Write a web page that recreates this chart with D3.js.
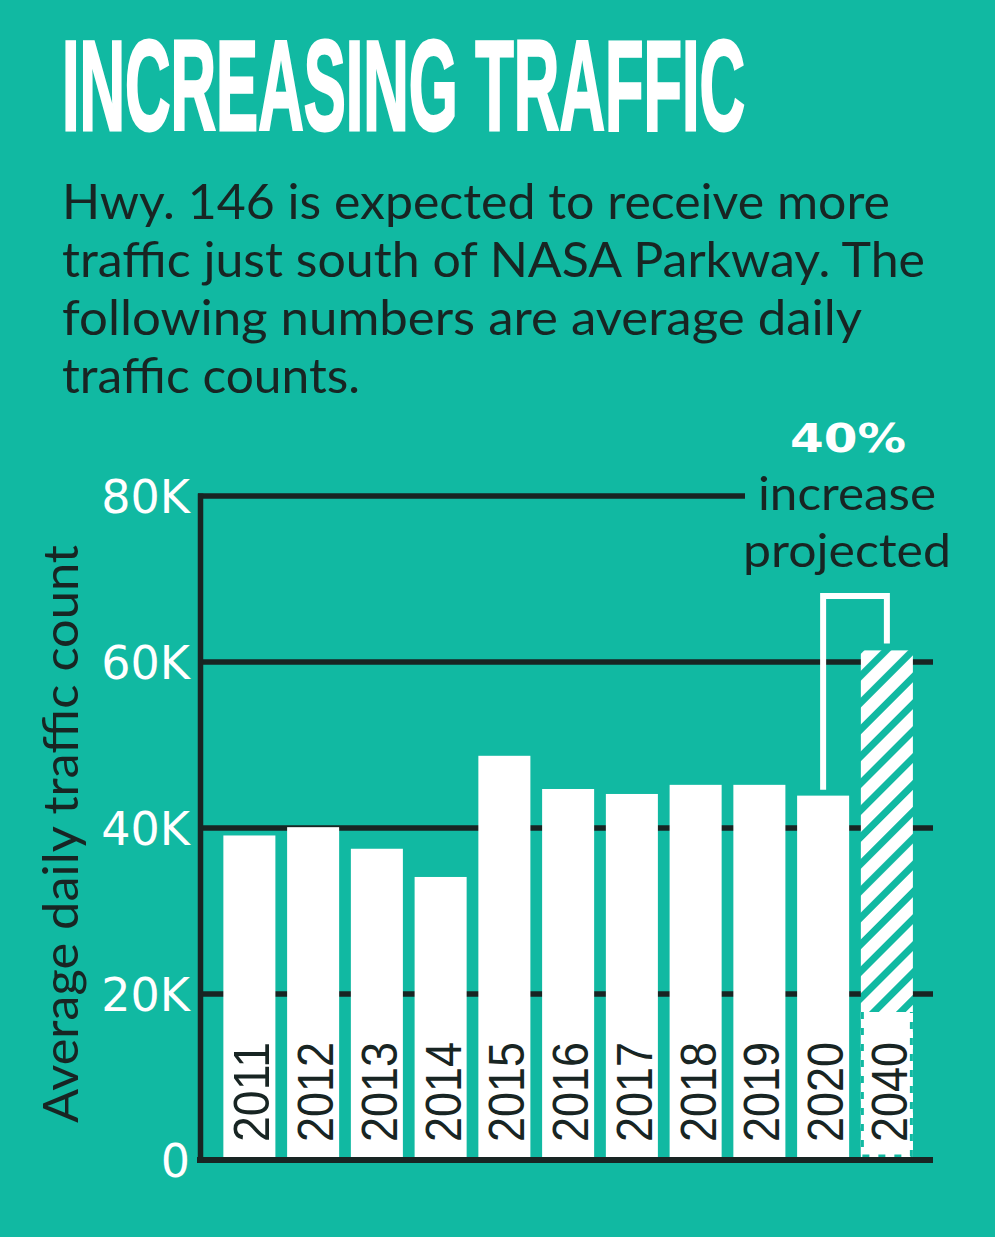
<!DOCTYPE html>
<html>
<head>
<meta charset="utf-8">
<script src="https://cdn.jsdelivr.net/npm/d3@7"></script>
<style>
  html, body { margin: 0; padding: 0; background: #11b9a2; }
  svg { display: block; }
</style>
</head>
<body>
<svg id="chart" width="995" height="1237"></svg>
<script>
/// DATA ///
var years = ["2011", "2012", "2013", "2014", "2015", "2016", "2017", "2018", "2019", "2020", "2040"];
var traffic = [39100, 40100, 37500, 34100, 48700, 44700, 44100, 45200, 45200, 43900, 61400];
var yTicks = [0, 20000, 40000, 60000, 80000];
var tickLabels = ["0", "20K", "40K", "60K", "80K"];
var titleText = "INCREASING TRAFFIC";
var subtitleLines = [
  "Hwy. 146 is expected to receive more",
  "traffic just south of NASA Parkway. The",
  "following numbers are average daily",
  "traffic counts."
];
var subtitleWidths = [828, 863, 800, 298];
var yLabel = "Average daily traffic count";
var annotation = ["40%", "increase", "projected"];

var COLOR = {
  BG: "#11b9a2",
  INK: "#182523",
  WHITE: "#ffffff"
};

var svg = d3.select("#chart");

svg.append("rect")
  .attr("width", 995)
  .attr("height", 1237)
  .attr("fill", COLOR.BG);

// hatch pattern for the projected bar
var defs = svg.append("defs");
var hatch = defs.append("pattern")
  .attr("id", "hatch")
  .attr("patternUnits", "userSpaceOnUse")
  .attr("width", 19)
  .attr("height", 19)
  .attr("patternTransform", "rotate(45)");
hatch.append("rect").attr("width", 19).attr("height", 19).attr("fill", COLOR.WHITE);
hatch.append("rect").attr("width", 7).attr("height", 19).attr("fill", COLOR.BG);

/// TITLE + SUBTITLE ///
// condensed headline: narrow the glyphs, then stretch them tall
svg.append("text")
  .attr("transform", "translate(62,130) scale(1,1.84)")
  .attr("textLength", 683)
  .attr("lengthAdjust", "spacingAndGlyphs")
  .style("font-family", "'Liberation Sans', Arial, sans-serif")
  .style("font-weight", "bold")
  .style("font-size", "70px")
  .style("fill", COLOR.WHITE)
  .style("stroke", COLOR.WHITE)
  .style("stroke-width", 1.6)
  .text(titleText);

svg.selectAll(".subtitle")
  .data(subtitleLines)
  .enter()
  .append("text")
  .attr("class", "subtitle")
  .attr("x", 62)
  .attr("y", function (d, i) { return 219 + i * 58; })
  .attr("textLength", function (d, i) { return subtitleWidths[i]; })
  .attr("lengthAdjust", "spacingAndGlyphs")
  .style("font-family", "Lato, sans-serif")
  .style("font-size", "48px")
  .style("fill", COLOR.INK)
  .text(function (d) { return d; });

/// SCALES ///
var x = d3.scaleBand()
  .domain(years)
  .range([217.5, 918.75])
  .paddingInner(0.184)
  .paddingOuter(0.092);

var y = d3.scaleLinear()
  .domain([0, 80000])
  .range([1160, 496]);

var data = years.map(function (yr, i) { return { year: yr, value: traffic[i] }; });

// gridlines (under the bars)
svg.selectAll(".grid")
  .data(yTicks.filter(function (v) { return v > 0; }))
  .enter()
  .append("line")
  .attr("class", "grid")
  .attr("x1", 198)
  .attr("x2", function (v) { return v === 80000 ? 745 : 933; })
  .attr("y1", function (v) { return y(v); })
  .attr("y2", function (v) { return y(v); })
  .attr("stroke", COLOR.INK)
  .attr("stroke-width", 5.5);

// tick labels
svg.selectAll(".tick-label")
  .data(yTicks)
  .enter()
  .append("text")
  .attr("class", "tick-label")
  .attr("x", 190)
  .attr("y", function (v) { return y(v) + 17; })
  .attr("text-anchor", "end")
  .style("font-family", "'DejaVu Sans', sans-serif")
  .style("font-size", "46px")
  .style("fill", COLOR.WHITE)
  .text(function (v, i) { return tickLabels[i]; });

// y axis title
svg.append("text")
  .attr("transform", "translate(78,1123) rotate(-90)")
  .attr("textLength", 578)
  .attr("lengthAdjust", "spacingAndGlyphs")
  .style("font-family", "Lato, sans-serif")
  .style("font-size", "48px")
  .style("fill", COLOR.INK)
  .text(yLabel);

/// BARS ///
svg.selectAll(".bar")
  .data(data)
  .enter()
  .append("rect")
  .attr("class", "bar")
  .attr("x", function (d) { return x(d.year); })
  .attr("y", function (d) { return y(d.value); })
  .attr("width", x.bandwidth())
  .attr("height", function (d) { return y(0) - y(d.value); })
  .attr("fill", function (d) { return d.year === "2040" ? "url(#hatch)" : COLOR.WHITE; });

// white label box on the projected bar, dashed edges
var px = x("2040"), bw = x.bandwidth(), boxTop = 1012;
svg.append("rect")
  .attr("x", px)
  .attr("y", boxTop)
  .attr("width", bw)
  .attr("height", y(0) - boxTop)
  .attr("fill", COLOR.WHITE);
svg.append("path")
  .attr("d", "M" + (px + 1.5) + "," + boxTop + "V" + (y(0) - 4) + "H" + (px + bw - 1.5) + "V" + boxTop)
  .attr("fill", "none")
  .attr("stroke", COLOR.BG)
  .attr("stroke-width", 3)
  .attr("stroke-dasharray", "7 9");

// year labels inside bars
svg.selectAll(".year-label")
  .data(data)
  .enter()
  .append("text")
  .attr("class", "year-label")
  .attr("transform", function (d) {
    return "translate(" + (x(d.year) + bw / 2 + 20) + ",1142) rotate(-90)";
  })
  .attr("textLength", 100)
  .attr("lengthAdjust", "spacingAndGlyphs")
  .style("font-family", "'Liberation Sans', Arial, sans-serif")
  .style("font-size", "50px")
  .style("fill", COLOR.INK)
  .text(function (d) { return d.year; });

/// AXES ///
svg.append("line")
  .attr("x1", 197).attr("x2", 933)
  .attr("y1", y(0)).attr("y2", y(0))
  .attr("stroke", COLOR.INK)
  .attr("stroke-width", 6);

svg.append("line")
  .attr("x1", 200.5).attr("x2", 200.5)
  .attr("y1", y(80000) - 2.5).attr("y2", y(0) + 3)
  .attr("stroke", COLOR.INK)
  .attr("stroke-width", 5.5);

/// ANNOTATION ///
var last = data[data.length - 1], prev = data[data.length - 2];
svg.append("path")
  .attr("d", "M" + (x(prev.year) + bw / 2) + "," + (y(prev.value) - 6) +
    "V596H" + (x(last.year) + bw / 2) + "V" + (y(last.value) - 7))
  .attr("fill", "none")
  .attr("stroke", COLOR.WHITE)
  .attr("stroke-width", 6);

svg.append("text")
  .attr("x", 848)
  .attr("y", 452)
  .attr("text-anchor", "middle")
  .attr("textLength", 116)
  .attr("lengthAdjust", "spacingAndGlyphs")
  .style("font-family", "'DejaVu Sans', sans-serif")
  .style("font-weight", "bold")
  .style("font-size", "39px")
  .style("fill", COLOR.WHITE)
  .text(annotation[0]);

svg.selectAll(".note")
  .data(annotation.slice(1))
  .enter()
  .append("text")
  .attr("class", "note")
  .attr("x", 847)
  .attr("y", function (d, i) { return 510 + i * 57; })
  .attr("text-anchor", "middle")
  .attr("textLength", function (d, i) { return i === 0 ? 178 : 208; })
  .attr("lengthAdjust", "spacingAndGlyphs")
  .style("font-family", "Lato, sans-serif")
  .style("font-size", "47px")
  .style("fill", COLOR.INK)
  .text(function (d) { return d; });
</script>
</body>
</html>
